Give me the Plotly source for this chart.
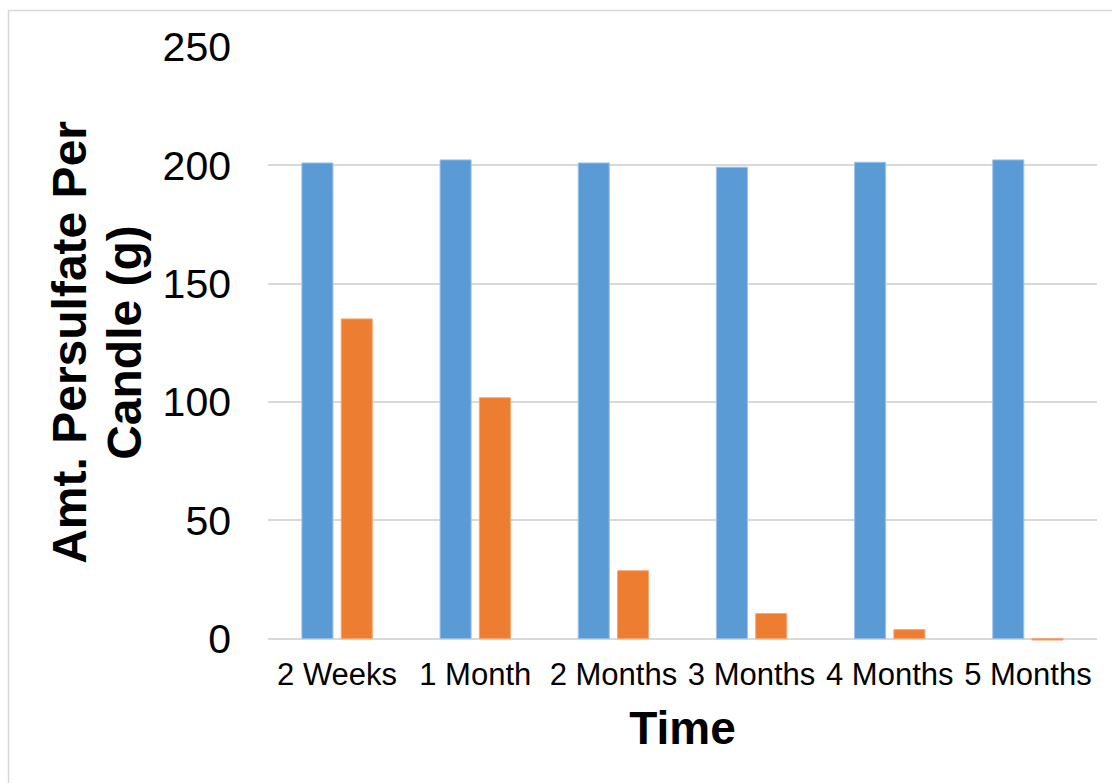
import plotly.graph_objects as go

categories = ["2 Weeks", "1 Month", "2 Months", "3 Months", "4 Months", "5 Months"]
series_a = [201.0, 202.3, 201.0, 199.2, 201.3, 202.3]
series_b = [135.1, 101.8, 28.7, 10.6, 3.8, -0.6]
y_ticks = [0, 50, 100, 150, 200, 250]

FONT = "Liberation Sans, Arial, sans-serif"
W, H = 1112, 783
L, R, T = 268, 15, 47
ZERO_PX = 639
YMIN, YMAX = -1, 250
plot_h = (ZERO_PX - T) * (YMAX - YMIN) / YMAX
B = H - T - plot_h
plot_w = W - L - R

def px_x(p):
    return (p - L) / plot_w

def px_y(p):
    return (T + plot_h - p) / plot_h

fig = go.Figure()
fig.add_trace(go.Bar(x=categories, y=series_a, marker=dict(color="#5b9bd5", line=dict(color="#9cc2e8", width=1)), showlegend=False))
fig.add_trace(go.Bar(x=categories, y=series_b, marker=dict(color="#ed7d31", line=dict(color="#f4a774", width=1)), showlegend=False))

fig.update_layout(
    width=W, height=H,
    margin=dict(l=L, r=R, t=T, b=B, pad=0),
    paper_bgcolor="white", plot_bgcolor="white",
    barmode="group", bargap=0.431, bargroupgap=0.21,
    font=dict(family=FONT, color="black"),
    xaxis=dict(showgrid=False, showline=False, zeroline=False, ticks="",
               tickfont=dict(size=31, family=FONT, color="black"),
               ticklabelstandoff=12,
               title=dict(text="<b>Time</b>", font=dict(size=46, family=FONT, color="black"), standoff=20)),
    yaxis=dict(range=[YMIN, YMAX], tickvals=y_ticks, showgrid=True, gridcolor="#d9d9d9", gridwidth=1.5,
               zeroline=True, zerolinecolor="#d9d9d9", zerolinewidth=1.5, showline=False, ticks="",
               tickfont=dict(size=41, family=FONT, color="black"), ticklabelstandoff=36),
    annotations=[
        dict(text="<b>Amt. Persulfate Per</b>", xref="paper", yref="paper", x=px_x(70), y=px_y(343),
             xanchor="center", yanchor="middle", textangle=-90, showarrow=False,
             font=dict(size=48, family=FONT, color="black")),
        dict(text="<b>Candle (g)</b>", xref="paper", yref="paper", x=px_x(125), y=px_y(343),
             xanchor="center", yanchor="middle", textangle=-90, showarrow=False,
             font=dict(size=48, family=FONT, color="black")),
    ],
    shapes=[dict(type="rect", xref="paper", yref="paper", x0=px_x(8.5), x1=px_x(1130), y0=px_y(800), y1=px_y(10.5),
                 line=dict(color="#d9d9d9", width=1.5), fillcolor="rgba(0,0,0,0)", layer="below")],
)

fig.write_html("out.html", config={"displayModeBar": False},
               post_script="document.body.style.margin='0';document.body.style.overflow='hidden';")
